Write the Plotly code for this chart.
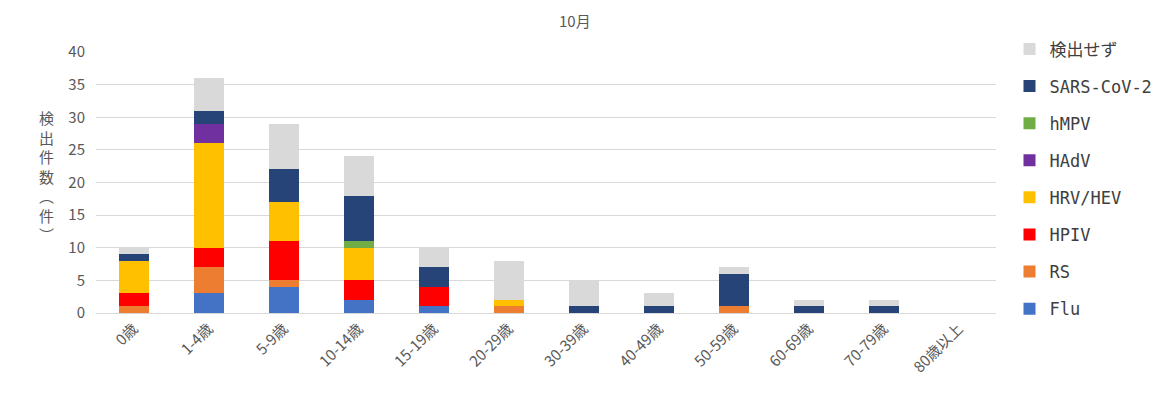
import plotly.graph_objects as go

categories = ["0歳", "1-4歳", "5-9歳", "10-14歳", "15-19歳", "20-29歳", "30-39歳",
              "40-49歳", "50-59歳", "60-69歳", "70-79歳", "80歳以上"]
flu   = [0, 3, 4, 2, 1, 0, 0, 0, 0, 0, 0, 0]
rs    = [1, 4, 1, 0, 0, 1, 0, 0, 1, 0, 0, 0]
hpiv  = [2, 3, 6, 3, 3, 0, 0, 0, 0, 0, 0, 0]
hrv   = [5, 16, 6, 5, 0, 1, 0, 0, 0, 0, 0, 0]
hadv  = [0, 3, 0, 0, 0, 0, 0, 0, 0, 0, 0, 0]
hmpv  = [0, 0, 0, 1, 0, 0, 0, 0, 0, 0, 0, 0]
sars  = [1, 2, 5, 7, 3, 0, 1, 1, 5, 1, 1, 0]
none_ = [1, 5, 7, 6, 3, 6, 4, 2, 1, 1, 1, 0]

series = [
    ("Flu", flu, "#4472C4"),
    ("RS", rs, "#ED7D31"),
    ("HPIV", hpiv, "#FF0000"),
    ("HRV/HEV", hrv, "#FFC000"),
    ("HAdV", hadv, "#7030A0"),
    ("hMPV", hmpv, "#70AD47"),
    ("SARS-CoV-2", sars, "#264478"),
    ("検出せず", none_, "#D9D9D9"),
]

font = "Noto Sans CJK JP"
mono = "DejaVu Sans Mono, Noto Sans CJK JP"
fig = go.Figure()
n = len(series)
for i, (name, vals, color) in enumerate(series):
    fig.add_trace(go.Bar(x=categories, y=vals, name=name, marker_color=color,
                         marker_line_width=0, legendgroup=name,
                         legendrank=(n - i) * 10))

fig.update_layout(
    width=1164, height=399,
    barmode="stack", bargap=0.6,
    paper_bgcolor="white", plot_bgcolor="white",
    font=dict(family=font, color="#595959", size=14),
    title=dict(text="10月", x=0.487, xanchor="center", y=0.965, yanchor="middle",
               font=dict(size=15, color="#595959", family=font)),
    margin=dict(l=88, r=176, t=44, b=94),
    legend=dict(traceorder="grouped", x=1.015, xanchor="left", y=1.079, yanchor="top",
                font=dict(size=17, color="#404040", family=mono),
                tracegroupgap=12, itemwidth=30, itemsizing="constant", maxheight=399),
    yaxis=dict(range=[0, 40], dtick=5, showgrid=True, gridcolor="#D9D9D9", gridwidth=1,
               zeroline=False, tickfont=dict(size=15, color="#595959"), ticks="",
               ticklabelstandoff=10),
    xaxis=dict(tickangle=-45, showline=True, linecolor="#D9D9D9", linewidth=1,
               tickfont=dict(size=15, color="#595959"), ticks=""),
)
fig.add_annotation(text="検<br>出<br>件<br>数<br>︵<br>件<br>︶", xref="paper", yref="paper",
                   x=-0.066, y=0.525, showarrow=False, font=dict(size=15, color="#595959"),
                   align="center")

fig.write_html("out.html")
